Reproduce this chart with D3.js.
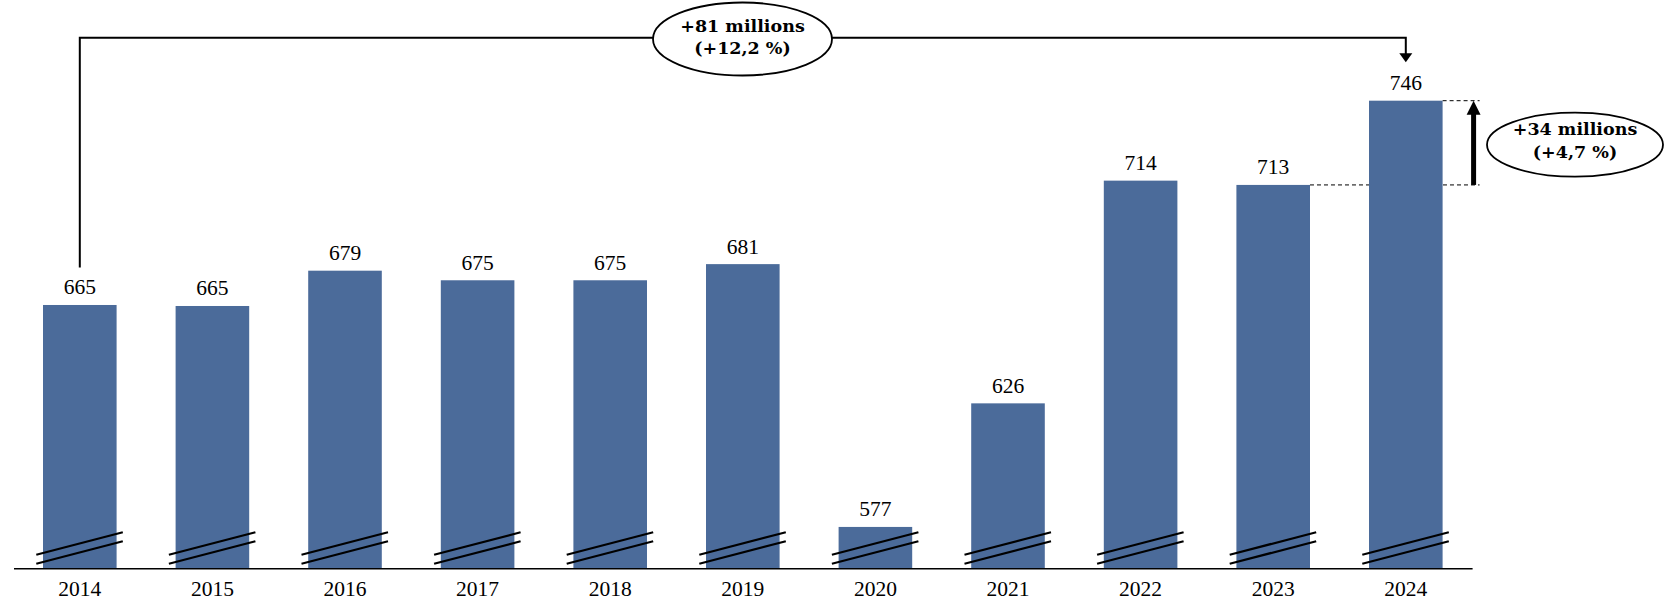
<!DOCTYPE html>
<html>
<head>
<meta charset="utf-8">
<script src="https://cdn.jsdelivr.net/npm/d3@7"></script>
<style>
  body { margin: 0; background: #fff; }
  .lbl { font-family: "Liberation Serif", serif; font-size: 21.5px; fill: #000; }
  .note { font-family: "DejaVu Serif", serif; font-size: 17.5px; font-weight: bold; fill: #000; }
</style>
</head>
<body>
<div id="chart"></div>
<script>
// valeurs (millions)
var years = ['2014', '2015', '2016', '2017', '2018', '2019', '2020', '2021', '2022', '2023', '2024'];
var values = [665.0, 664.6, 678.6, 674.8, 674.8, 681.2, 577.0, 626.0, 714.3, 712.6, 746.0];
var longNote = ['+81 millions', '(+12,2 %)'];
var shortNote = ['+34 millions', '(+4,7 %)'];

var W = 1664, H = 615;
var barColor = '#4b6b9a';

var svg = d3.select('#chart').append('svg').attr('width', W).attr('height', H);

var xScale = d3.scaleBand()
    .domain(years)
    .range([13.5, 1472.1])
    .paddingInner(0.445)
    .paddingOuter(0.2225);

var yScale = d3.scaleLinear()
    .domain([560.6, 750])
    .range([568.3, 90.6]);

var cx = (y) => xScale(y) + xScale.bandwidth() / 2;
var last = years.length - 1;

// lignes pointillées (écart 2023 -> 2024)
var yTop = yScale(values[last]);
var yPrev = yScale(values[last - 1]);
var dashEnd = xScale(years[last]) + xScale.bandwidth() + 37;

svg.append('line')
    .attr('x1', xScale(years[last]) + xScale.bandwidth()).attr('x2', dashEnd)
    .attr('y1', yTop).attr('y2', yTop)
    .attr('stroke', '#000').attr('stroke-width', 1).attr('stroke-dasharray', '4,3');
svg.append('line')
    .attr('x1', xScale(years[last - 1]) + xScale.bandwidth()).attr('x2', dashEnd)
    .attr('y1', yPrev).attr('y2', yPrev)
    .attr('stroke', '#000').attr('stroke-width', 1).attr('stroke-dasharray', '4,3');

// barres
svg.selectAll('.bar')
    .data(values)
    .enter()
    .append('rect')
    .attr('class', 'bar')
    .attr('x', (d, i) => xScale(years[i]))
    .attr('y', (d) => yScale(d))
    .attr('width', xScale.bandwidth())
    .attr('height', (d) => yScale.range()[0] - yScale(d))
    .attr('fill', barColor);

// valeurs au-dessus des barres
svg.selectAll('.value')
    .data(values)
    .enter()
    .append('text')
    .attr('class', 'lbl')
    .attr('x', (d, i) => cx(years[i]))
    .attr('y', (d) => yScale(d) - 10.5)
    .attr('text-anchor', 'middle')
    .text((d) => d3.format('.0f')(d));

// axe des abscisses
var axis = svg.append('g')
    .attr('transform', `translate(0, ${yScale.range()[0]})`)
    .call(d3.axisBottom(xScale).tickSize(0).tickPadding(0));
axis.select('.domain').attr('stroke', '#000').attr('stroke-width', 1.4);
axis.selectAll('text')
    .attr('class', 'lbl')
    .attr('font-family', null).attr('font-size', null)
    .attr('dy', null)
    .attr('y', 27.7);

// marques de rupture d'axe
var breaks = svg.append('g');
years.forEach(function (y) {
    [0, 9].forEach(function (off) {
        breaks.append('line')
            .attr('x1', cx(y) - 43.5).attr('y1', 554.7 + off)
            .attr('x2', cx(y) + 43).attr('y2', 532.3 + off)
            .attr('stroke', '#000').attr('stroke-width', 2.2);
    });
});

// crochet 2014 -> 2024
var bracketY = 37.7;
var tipY = yTop - 38.4;
var x24 = cx(years[last]);
svg.append('path')
    .attr('d', `M${cx(years[0])},${yScale(values[0]) - 37.5} V${bracketY} H${x24} V${tipY - 8}`)
    .attr('fill', 'none')
    .attr('stroke', '#000')
    .attr('stroke-width', 2);
svg.append('path')
    .attr('d', `M${x24 - 6.5},${tipY - 9} L${x24 + 6.5},${tipY - 9} L${x24},${tipY} Z`)
    .attr('fill', '#000');

function note(x, y, rx, ry, lines, d1, d2) {
    svg.append('ellipse')
        .attr('cx', x).attr('cy', y).attr('rx', rx).attr('ry', ry)
        .attr('fill', '#fff').attr('stroke', '#000').attr('stroke-width', 1.8);
    svg.append('text').attr('class', 'note').attr('x', x).attr('y', y + d1)
        .attr('text-anchor', 'middle').text(lines[0]);
    svg.append('text').attr('class', 'note').attr('x', x).attr('y', y + d2)
        .attr('text-anchor', 'middle').text(lines[1]);
}

note(742.5, 39, 89.5, 36.5, longNote, -7.3, 14.8);

// flèche verticale 2023 -> 2024
var ax = dashEnd - 6;
svg.append('line')
    .attr('x1', ax).attr('x2', ax)
    .attr('y1', yPrev).attr('y2', yTop + 13)
    .attr('stroke', '#000').attr('stroke-width', 5);
svg.append('path')
    .attr('d', `M${ax - 7},${yTop + 14} L${ax},${yTop} L${ax + 7},${yTop + 14} Z`)
    .attr('fill', '#000');

note(1575, 144.7, 88, 32, shortNote, -9.7, 13.3);
</script>
</body>
</html>
